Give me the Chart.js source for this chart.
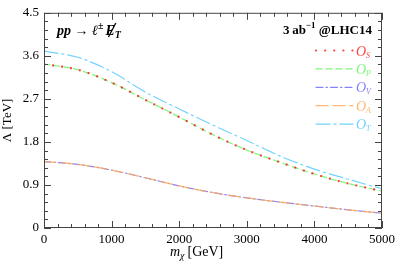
<!DOCTYPE html>
<html lang="en">
<head>
<meta charset="UTF-8">
<title>Lambda vs m_chi</title>
<script src="https://cdn.jsdelivr.net/npm/chart.js"></script>
<style>
    body { margin: 0; background: #fff; }
    #wrap { width: 399px; height: 266px; }
</style>
</head>
<body>
<div id="wrap"><canvas id="limitChart" width="399" height="266"></canvas></div>
<script>
// dark matter mass (GeV) and the reach on Lambda (TeV) per operator
const massGeV = [0, 500, 1000, 1500, 2000, 2500, 3000, 3500, 4000, 4500, 5000];
const lambdaS = [3.43, 3.31, 3.04, 2.68, 2.32, 1.95, 1.63, 1.37, 1.13, 0.93, 0.77];
const lambdaP = [3.43, 3.31, 3.04, 2.68, 2.32, 1.95, 1.63, 1.37, 1.13, 0.93, 0.77];
const lambdaV = [1.39, 1.33, 1.21, 1.05, 0.88, 0.74, 0.63, 0.54, 0.46, 0.38, 0.31];
const lambdaA = [1.39, 1.33, 1.21, 1.05, 0.88, 0.74, 0.63, 0.54, 0.46, 0.38, 0.31];
const lambdaT = [3.70, 3.57, 3.27, 2.84, 2.49, 2.15, 1.83, 1.50, 1.23, 1.02, 0.82];

const xTicks = [0, 1000, 2000, 3000, 4000, 5000];
const yTicks = [0, 0.9, 1.8, 2.7, 3.6, 4.5];
const yTickLabels = ['0', '0.9', '1.8', '2.7', '3.6', '4.5'];
const legendSubs = ['S', 'P', 'V', 'A', 'T'];

const serif = '"Liberation Serif", "DejaVu Serif", serif';

function makeSet(label, values, color, dash, width, order) {
    return {
        label: label,
        data: massGeV.map((m, i) => ({ x: m, y: values[i] })),
        borderColor: color,
        borderDash: dash,
        borderWidth: width,
        borderCapStyle: 'round',
        pointRadius: 0,
        fill: false,
        order: order,
        cubicInterpolationMode: 'monotone'
    };
}

// lower order is drawn on top: S dots over P dashes, A dashes over V
const datasets = [
    makeSet('S', lambdaS, 'rgba(255,30,30,0.85)', [0.1, 9], 2.2, 0),
    makeSet('P', lambdaP, 'rgba(90,245,90,0.8)', [6, 4], 1.2, 2),
    makeSet('V', lambdaV, 'rgba(90,90,255,0.75)', [7, 3, 1.5, 3], 1.2, 3),
    makeSet('A', lambdaA, 'rgba(255,170,90,0.85)', [12, 5], 1.2, 1),
    makeSet('T', lambdaT, 'rgba(100,205,255,0.9)', [14, 4, 2, 4], 1.2, 0)
];

const frameAndText = {
    id: 'frameAndText',
    afterDatasetsDraw(chart) {
        const c = chart.ctx;
        const a = chart.chartArea;
        const xs = chart.scales.x, ys = chart.scales.y;
        c.save();
        c.strokeStyle = '#444';
        c.lineWidth = 1;
        c.strokeRect(a.left + 0.5, a.top + 0.5, a.right - a.left - 1, a.bottom - a.top - 1);

        // inward ticks on all four sides
        c.beginPath();
        for (let m = 0; m <= 5000; m += 200) {
            const px = Math.round(xs.getPixelForValue(m)) + 0.5;
            const len = (m % 1000 === 0) ? 7 : 4;
            c.moveTo(px, a.bottom); c.lineTo(px, a.bottom - len);
            c.moveTo(px, a.top); c.lineTo(px, a.top + len);
        }
        for (let k = 0; k <= 25; k++) {
            const py = Math.round(ys.getPixelForValue(k * 0.18)) + 0.5;
            const len = (k % 5 === 0) ? 7 : 4;
            c.moveTo(a.left, py); c.lineTo(a.left + len, py);
            c.moveTo(a.right, py); c.lineTo(a.right - len, py);
        }
        c.stroke();

        // process label
        c.fillStyle = '#000';
        c.strokeStyle = '#000';
        c.textBaseline = 'alphabetic';
        c.font = 'bold italic 14px ' + serif;
        let x = 57;
        const base = 35;
        c.fillText('pp \u2192 \u2113', x, base);
        x += c.measureText('pp \u2192 \u2113').width;
        c.font = 'bold 10px ' + serif;
        c.fillText('\u00b1', x, base - 6);
        x += c.measureText('\u00b1').width + 2;
        c.font = 'bold italic 14px ' + serif;
        c.fillText('E', x, base);
        const ew = c.measureText('E').width;
        c.beginPath();
        c.lineWidth = 1.3;
        c.moveTo(x + 3, base + 2); c.lineTo(x + ew + 1, base - 12);
        c.stroke();
        x += ew;
        c.font = 'bold italic 10px ' + serif;
        c.fillText('T', x, base + 3);

        // luminosity label, right aligned
        const p1 = '3\u2009ab', p3 = ' @LHC14';
        c.font = 'bold 9px ' + serif;
        const w2 = c.measureText('\u22121').width;
        c.font = 'bold 13px ' + serif;
        const w1 = c.measureText(p1).width, w3 = c.measureText(p3).width;
        let lx = 372 - (w1 + w2 + w3);
        c.fillText(p1, lx, 34);
        lx += w1;
        c.font = 'bold 9px ' + serif;
        c.fillText('\u22121', lx, 28);
        lx += w2;
        c.font = 'bold 13px ' + serif;
        c.fillText(p3, lx, 34);

        // legend
        chart.data.datasets.forEach((ds, i) => {
            const y = 50.5 + i * 18.4;
            c.beginPath();
            c.strokeStyle = ds.borderColor;
            c.lineWidth = ds.borderWidth;
            c.lineCap = 'round';
            c.setLineDash(ds.borderDash);
            c.moveTo(316, y); c.lineTo(353, y);
            c.stroke();
            c.setLineDash([]);
            c.fillStyle = ds.borderColor;
            c.font = 'italic 14px ' + serif;
            c.fillText('O', 356, y + 5);
            c.font = 'italic 8px ' + serif;
            c.fillText(legendSubs[i], 366, y + 7);
        });

        // x axis title
        c.fillStyle = '#000';
        c.font = 'italic 14px ' + serif;
        let tx = 170;
        c.fillText('m', tx, 256);
        tx += c.measureText('m').width;
        c.font = 'italic 10px ' + serif;
        c.fillText('\u03c7', tx, 259);
        tx += c.measureText('\u03c7').width + 3;
        c.font = '14px ' + serif;
        c.fillText('[GeV]', tx, 256);
        c.restore();
    }
};

const ctx = document.getElementById('limitChart').getContext('2d');
const chart = new Chart(ctx, {
    type: 'line',
    data: { datasets: datasets },
    options: {
        responsive: false,
        animation: false,
        layout: { padding: { top: 8, right: 15, left: 0, bottom: 0 } },
        plugins: {
            legend: { display: false },
            tooltip: { enabled: false }
        },
        scales: {
            x: {
                type: 'linear',
                min: 0,
                max: 5000,
                afterBuildTicks: (s) => { s.ticks = xTicks.map(v => ({ value: v })); },
                afterFit: (s) => { s.height = 38; },
                grid: { display: false, drawTicks: false },
                border: { display: false },
                ticks: {
                    color: '#000',
                    padding: 4,
                    font: { family: serif, size: 13 },
                    callback: (v) => String(v)
                }
            },
            y: {
                min: 0,
                max: 4.5,
                afterBuildTicks: (s) => { s.ticks = yTicks.map(v => ({ value: v })); },
                afterFit: (s) => { s.width = 44; },
                grid: { display: false, drawTicks: false },
                border: { display: false },
                title: {
                    display: true,
                    text: '\u039b [TeV]',
                    color: '#000',
                    padding: 0,
                    font: { family: serif, size: 13 }
                },
                ticks: {
                    color: '#000',
                    padding: 5,
                    font: { family: serif, size: 13 },
                    callback: (v, i) => yTickLabels[i]
                }
            }
        }
    },
    plugins: [frameAndText]
});
</script>
</body>
</html>
